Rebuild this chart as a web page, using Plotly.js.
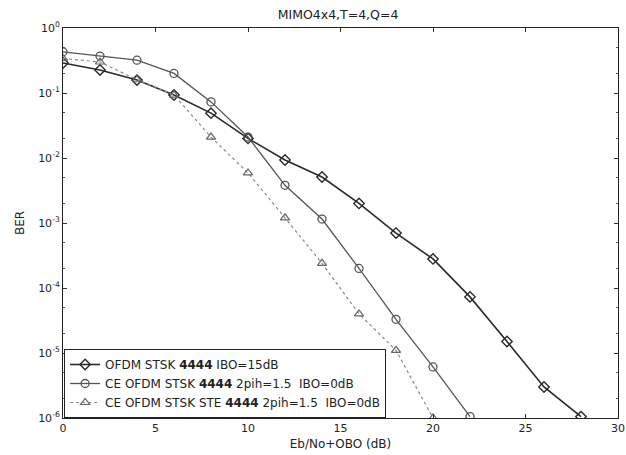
<!DOCTYPE html>
<html>
<head>
<meta charset="utf-8">
<script src="https://cdn.plot.ly/plotly-3.0.1.min.js"></script>
<style>html,body{margin:0;padding:0;background:#fff;}#chart{width:626px;height:455px;}</style>
</head>
<body>
<div id="chart"></div>
<script>
const snr = [0, 2, 4, 6, 8, 10, 12, 14, 16, 18, 20, 22, 24, 26, 28];
const berOfdm = [0.29, 0.226, 0.158, 0.093, 0.049, 0.020, 0.0093, 0.0051, 0.0020, 7.0e-4, 2.8e-4, 7.3e-5, 1.5e-5, 3.0e-6, 1.05e-6];
const snrCe = [0, 2, 4, 6, 8, 10, 12, 14, 16, 18, 20, 22];
const berCe = [0.43, 0.37, 0.32, 0.20, 0.073, 0.021, 0.0038, 0.00115, 2.0e-4, 3.3e-5, 6.1e-6, 1.05e-6];
const snrSte = [0, 2, 4, 6, 8, 10, 12, 14, 16, 18, 20];
const berSte = [0.34, 0.30, 0.16, 0.093, 0.021, 0.0059, 0.0012, 2.4e-4, 4.0e-5, 1.1e-5, 1.0e-6];
const names = [
  'OFDM STSK <b>4444</b> IBO=15dB',
  'CE OFDM STSK <b>4444</b> 2pih=1.5  IBO=0dB',
  'CE OFDM STSK STE <b>4444</b> 2pih=1.5  IBO=0dB'
];
const yTickVals = [1, 0.1, 0.01, 0.001, 1e-4, 1e-5, 1e-6];
const yTickText = ['10<sup>0</sup>', '10<sup>-1</sup>', '10<sup>-2</sup>', '10<sup>-3</sup>', '10<sup>-4</sup>', '10<sup>-5</sup>', '10<sup>-6</sup>'];
const xTickVals = [0, 5, 10, 15, 20, 25, 30];

const font = 'DejaVu Sans, Liberation Sans, Arial, sans-serif';
const traces = [
  {x: snr, y: berOfdm, name: names[0], mode: 'lines+markers',
   line: {color: '#2a2a2a', width: 1.6},
   marker: {symbol: 'diamond-open', size: 8, color: '#2a2a2a', line: {width: 1.4}}},
  {x: snrCe, y: berCe, name: names[1], mode: 'lines+markers',
   line: {color: '#555555', width: 1.3},
   marker: {symbol: 'circle-open', size: 8, color: '#555555', line: {width: 1.3}}},
  {x: snrSte, y: berSte, name: names[2], mode: 'lines+markers',
   line: {color: '#8a8a8a', width: 1.2, dash: 'dot'},
   marker: {symbol: 'triangle-up-open', size: 8, color: '#666666', line: {width: 1.2}}}
];
const layout = {
  width: 626, height: 455,
  margin: {l: 63, r: 8, t: 28, b: 37},
  paper_bgcolor: '#fff', plot_bgcolor: '#fff',
  font: {family: font, size: 11, color: '#222'},
  title: {text: 'MIMO4x4,T=4,Q=4', font: {family: font, size: 12.5, color: '#222'}, x: 0.54, xanchor: 'center', y: 0.978, yanchor: 'top'},
  showlegend: true,
  legend: {x: 0.002, y: 0.0, xanchor: 'left', yanchor: 'bottom', bgcolor: '#fff', bordercolor: '#222', borderwidth: 1,
           font: {family: font, size: 12, color: '#222'}, tracegroupgap: 0, itemwidth: 30},
  xaxis: {range: [0, 30], tickvals: xTickVals, ticks: 'inside', ticklen: 4, tickcolor: '#333',
          showline: true, linecolor: '#222', linewidth: 1, mirror: 'ticks', showgrid: false, zeroline: false,
          title: {text: 'Eb/No+OBO (dB)', font: {family: font, size: 12, color: '#222'}, standoff: 5},
          tickfont: {family: font, size: 11, color: '#222'}},
  yaxis: {type: 'log', range: [-6, 0], tickvals: yTickVals, ticktext: yTickText, ticks: 'inside', ticklen: 4, tickcolor: '#333',
          minor: {ticks: 'inside', ticklen: 2, tickcolor: '#555', showgrid: false},
          showline: true, linecolor: '#222', linewidth: 1, mirror: 'ticks', showgrid: false, zeroline: false,
          title: {text: 'BER', font: {family: font, size: 12, color: '#222'}, standoff: 10},
          tickfont: {family: font, size: 11, color: '#222'}}
};
Plotly.newPlot('chart', traces, layout, {displayModeBar: false, staticPlot: true});
</script>
</body>
</html>
